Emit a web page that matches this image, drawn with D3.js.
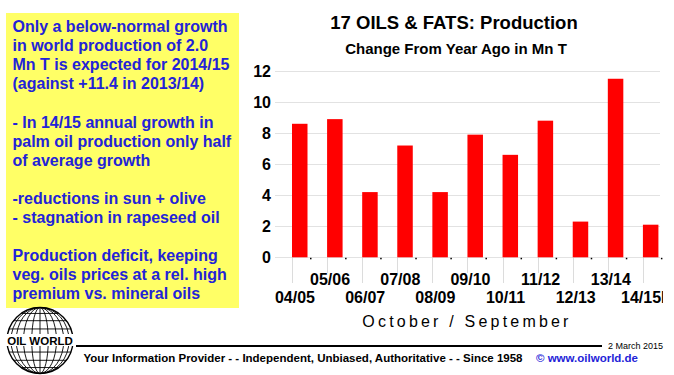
<!DOCTYPE html>
<html>
<head>
<meta charset="utf-8">
<script src="https://cdn.jsdelivr.net/npm/d3@7"></script>
<style>
  body { margin: 0; background: #fff; }
  svg { display: block; font-family: Arial, "Liberation Sans", sans-serif; }
</style>
</head>
<body>
<div id="chart"></div>
<script>
// data
var categories = ['04/05', '05/06', '06/07', '07/08', '08/09', '09/10', '10/11', '11/12', '12/13', '13/14', '14/15F'];
var values = [8.6, 8.9, 4.2, 7.2, 4.2, 7.9, 6.6, 8.8, 2.3, 11.5, 2.1];
var yTicks = [0, 2, 4, 6, 8, 10, 12];
var noteLines = [
  'Only a below-normal growth',
  'in world production of 2.0',
  'Mn T is expected for 2014/15',
  '(against +11.4 in 2013/14)',
  '',
  '- In 14/15 annual growth in',
  'palm oil production only half',
  'of average growth',
  '',
  '-reductions in sun + olive',
  '- stagnation in rapeseed oil',
  '',
  'Production deficit, keeping',
  'veg. oils prices at a rel. high',
  'premium vs. mineral oils'
];

var width = 674, height = 375;

var svg = d3.select('#chart').append('svg')
  .attr('width', width)
  .attr('height', height);

svg.append('rect').attr('width', width).attr('height', height).attr('fill', '#fff');

// yellow note box
svg.append('rect')
  .attr('x', 6).attr('y', 13)
  .attr('width', 233).attr('height', 295)
  .attr('fill', '#ffff66');

svg.append('g').selectAll('text')
  .data(noteLines)
  .enter().append('text')
  .attr('x', 12.5)
  .attr('y', function (d, i) { return 32 + i * 19.1; })
  .attr('fill', '#2323d8')
  .attr('font-size', 16)
  .attr('font-weight', 'bold')
  .text(function (d) { return d; });

// titles
svg.append('text')
  .attr('x', 454).attr('y', 29)
  .attr('text-anchor', 'middle')
  .attr('font-size', 18.5).attr('font-weight', 'bold')
  .text('17 OILS & FATS: Production');

svg.append('text')
  .attr('x', 456).attr('y', 54)
  .attr('text-anchor', 'middle')
  .attr('font-size', 15).attr('font-weight', 'bold')
  .text('Change From Year Ago in Mn T');

// chart
var y = d3.scaleLinear().domain([0, 12]).range([257.3, 71]);
var x = d3.scaleBand().domain(categories).range([285, 671]);
var barOff = 7, barW = 15.5;

svg.append('clipPath').attr('id', 'clip')
  .append('rect').attr('x', 0).attr('y', 0).attr('width', 663).attr('height', 320);

var g = svg.append('g').attr('clip-path', 'url(#clip)');

g.selectAll('.grid')
  .data(yTicks)
  .enter().append('line')
  .attr('class', 'grid')
  .attr('x1', 275).attr('x2', 660)
  .attr('y1', function (d) { return Math.round(y(d)) + 0.5; })
  .attr('y2', function (d) { return Math.round(y(d)) + 0.5; })
  .attr('stroke', '#e2e2e2');

svg.selectAll('.ylab')
  .data(yTicks)
  .enter().append('text')
  .attr('class', 'ylab')
  .attr('x', 271)
  .attr('y', function (d) { return y(d); })
  .attr('dy', '0.36em')
  .attr('text-anchor', 'end')
  .attr('font-size', 16).attr('font-weight', 'bold')
  .text(function (d) { return d; });

// category separators under the axis
g.selectAll('.sep')
  .data(categories)
  .enter().append('line')
  .attr('class', 'sep')
  .attr('x1', function (d) { return Math.round(x(d) + barOff) + 0.5; })
  .attr('x2', function (d) { return Math.round(x(d) + barOff) + 0.5; })
  .attr('y1', y(0))
  .attr('y2', function (d, i) { return i % 2 == 0 ? 283 : 273; })
  .attr('stroke', '#dcdcdc');

g.selectAll('.bar')
  .data(values)
  .enter().append('rect')
  .attr('class', 'bar')
  .attr('x', function (d, i) { return x(categories[i]) + barOff; })
  .attr('y', function (d) { return y(d); })
  .attr('width', barW)
  .attr('height', function (d) { return y(0) - y(d); })
  .attr('fill', '#ff0000');

g.selectAll('.dot')
  .data(categories)
  .enter().append('rect')
  .attr('class', 'dot')
  .attr('x', function (d) { return x(d) + barOff + barW + 2.5; })
  .attr('y', y(0) + 0.5)
  .attr('width', 1.5).attr('height', 1.5)
  .attr('fill', '#000');

g.selectAll('.xlab')
  .data(categories)
  .enter().append('text')
  .attr('class', 'xlab')
  .attr('x', function (d) { return x(d) + barOff + 3; })
  .attr('y', function (d, i) { return i % 2 == 0 ? 303 : 285; })
  .attr('text-anchor', 'middle')
  .attr('font-size', 16).attr('font-weight', 'bold')
  .text(function (d) { return d; });

svg.append('text')
  .attr('x', 467).attr('y', 327)
  .attr('text-anchor', 'middle')
  .attr('font-size', 16)
  .attr('letter-spacing', '3.2px')
  .text('October / September');

// logo
var cx = 40, cy = 340.5, r = 33;
var logo = svg.append('g').attr('fill', 'none').attr('stroke', '#000');
logo.append('circle').attr('cx', cx).attr('cy', cy).attr('r', r).attr('stroke-width', 1.4);
[0.25, 0.5, 0.72, 0.88].forEach(function (k) {
  logo.append('ellipse').attr('cx', cx).attr('cy', cy).attr('rx', r * k).attr('ry', r).attr('stroke-width', 0.9);
});
logo.append('line').attr('x1', cx).attr('x2', cx).attr('y1', cy - r).attr('y2', cy + r).attr('stroke-width', 0.9);
[-0.82, -0.6, -0.35, 0.35, 0.6, 0.82].forEach(function (k) {
  var dy = r * k, half = Math.sqrt(r * r - dy * dy);
  logo.append('line').attr('x1', cx - half).attr('x2', cx + half)
    .attr('y1', cy + dy).attr('y2', cy + dy).attr('stroke-width', 0.9);
});
svg.append('rect').attr('x', 6).attr('y', 334).attr('width', 68).attr('height', 12).attr('fill', '#fff');
svg.append('text')
  .attr('x', 40).attr('y', 344.5)
  .attr('text-anchor', 'middle')
  .attr('font-size', 11.5).attr('font-weight', 'bold')
  .text('OIL WORLD');

// footer
svg.append('line')
  .attr('x1', 76).attr('x2', 602)
  .attr('y1', 346).attr('y2', 346)
  .attr('stroke', '#000').attr('stroke-width', 2);

svg.append('text')
  .attr('x', 608).attr('y', 349)
  .attr('font-size', 9)
  .text('2 March 2015');

svg.append('text')
  .attr('x', 83.5).attr('y', 362)
  .attr('font-size', 11.5).attr('font-weight', 'bold')
  .text('Your Information Provider - - Independent, Unbiased, Authoritative - - Since 1958');

svg.append('text')
  .attr('x', 536).attr('y', 362)
  .attr('fill', '#2323d8')
  .attr('font-size', 11.5).attr('font-weight', 'bold')
  .text('\u00a9 www.oilworld.de');
</script>
</body>
</html>
